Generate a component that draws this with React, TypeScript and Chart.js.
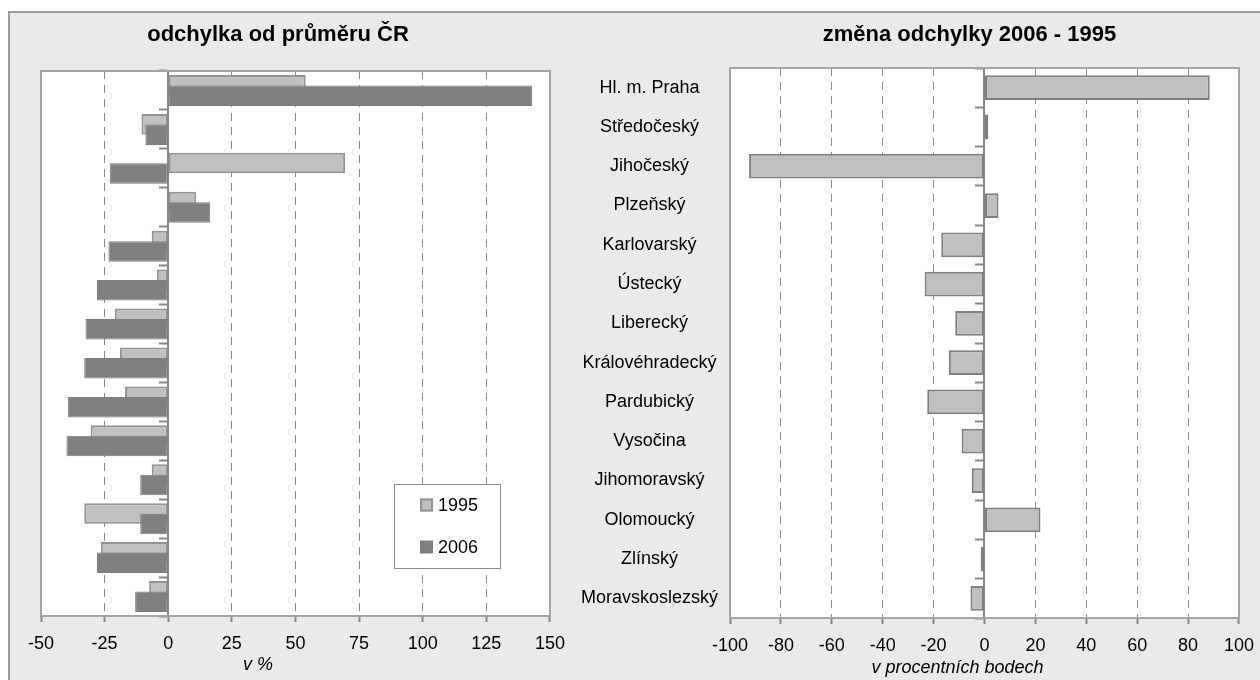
import React, { useEffect, useRef } from 'react';
import { Chart, registerables } from 'chart.js';

Chart.register(...registerables);

// ---------- data ----------
const regions = [
  'Hl. m. Praha',
  'Středočeský',
  'Jihočeský',
  'Plzeňský',
  'Karlovarský',
  'Ústecký',
  'Liberecký',
  'Královéhradecký',
  'Pardubický',
  'Vysočina',
  'Jihomoravský',
  'Olomoucký',
  'Zlínský',
  'Moravskoslezský',
];
const seriesLabels = ['1995', '2006'];
const dev1995 = [54, -10.5, 69.5, 11, -6.5, -4.5, -21, -19, -17, -30.5, -6.5, -33, -26.5, -7.5];
const dev2006 = [143, -9, -23, 16.5, -23.5, -28, -32.5, -33, -39.5, -40, -11, -11, -28, -13];
const change = [88.5, 1.5, -92.5, 5.5, -17, -23.5, -11.5, -14, -22.5, -9, -5, 22, -1.5, -5.5];

const leftRange = [-50, 150];
const leftStep = 25;
const rightRange = [-100, 100];
const rightStep = 20;

const leftTitle = 'odchylka od průměru ČR';
const rightTitle = 'změna odchylky 2006 - 1995';
const leftAxisTitle = 'v %';
const rightAxisTitle = 'v procentních bodech';

// ---------- styling ----------
const FONT = '"Liberation Sans", Arial, Helvetica, sans-serif';
const LIGHT = '#c0c0c0';
const DARK = '#808080';
const GRID = '#8c8c8c';
const FRAME = '#a4a4a4';
const AXIS = '#868686';

const framePlugin = {
  id: 'frame',
  beforeDraw(chart: any) {
    const { ctx, chartArea: a } = chart;
    ctx.save();
    ctx.fillStyle = '#ffffff';
    ctx.fillRect(a.left, a.top, a.right - a.left, a.bottom - a.top);
    ctx.restore();
  },
  beforeDatasetsDraw(chart: any) {
    const { ctx, chartArea: a } = chart;
    ctx.save();
    ctx.strokeStyle = FRAME;
    ctx.lineWidth = 2;
    ctx.strokeRect(a.left, a.top, a.right - a.left, a.bottom - a.top);
    ctx.restore();
  },
};

// draw the second series above the first one (bars overlap)
const drawOrderPlugin = {
  id: 'drawOrder',
  beforeDatasetDraw(chart: any, args: any) {
    if (chart.data.datasets.length > 1 && args.index === 1) return false;
    return true;
  },
  afterDatasetsDraw(chart: any) {
    if (chart.data.datasets.length > 1) {
      const meta = chart.getDatasetMeta(1);
      if (meta && !meta.hidden) meta.controller.draw();
    }
  },
};

const captionsPlugin = {
  id: 'captions',
  afterDraw(chart: any, _args: any, opts: any) {
    const { ctx, chartArea: a } = chart;
    const cx = (a.left + a.right) / 2;
    ctx.save();
    ctx.fillStyle = '#000';
    ctx.textAlign = 'center';
    ctx.textBaseline = 'alphabetic';
    ctx.font = `bold 22px ${FONT}`;
    ctx.fillText(opts.title, cx + opts.titleDx, opts.titleY);
    ctx.font = `italic 18px ${FONT}`;
    ctx.fillText(opts.axisTitle, cx + opts.axisTitleDx, a.bottom + opts.axisTitleDy);
    ctx.restore();
  },
};

const boxLegendPlugin = {
  id: 'boxLegend',
  afterDraw(chart: any, _args: any, opts: any) {
    if (!opts || !opts.show) return;
    const { ctx, chartArea: a } = chart;
    const w = 106;
    const h = 84;
    const x0 = Math.round(a.right - opts.right - w);
    const y0 = Math.round(a.bottom - opts.bottom - h);
    ctx.save();
    ctx.fillStyle = '#fff';
    ctx.fillRect(x0, y0, w, h);
    ctx.strokeStyle = '#8a8a8a';
    ctx.lineWidth = 1;
    ctx.strokeRect(x0 + 0.5, y0 + 0.5, w, h);
    ctx.font = `18px ${FONT}`;
    ctx.textBaseline = 'middle';
    ctx.textAlign = 'left';
    chart.data.datasets.forEach((ds: any, i: number) => {
      const cy = y0 + 21 + i * 42;
      ctx.fillStyle = ds.backgroundColor;
      ctx.fillRect(x0 + 26, cy - 6.5, 13, 13);
      ctx.strokeStyle = ds.borderColor;
      ctx.lineWidth = i === 0 ? 2 : 1;
      ctx.strokeRect(x0 + 27, cy - 5.5, 11, 11);
      ctx.fillStyle = '#000';
      ctx.fillText(ds.label, x0 + 44, cy + 1);
    });
    ctx.restore();
  },
};

const xGridColor = (ctx: any) =>
  ctx.tick && ctx.tick.value === 0 ? 'rgba(0,0,0,0)' : GRID;

function valueAxis(range: number[], step: number) {
  return {
    type: 'linear',
    position: 'bottom',
    min: range[0],
    max: range[1],
    ticks: {
      stepSize: step,
      color: '#000',
      font: { size: 18, family: FONT },
      padding: 11,
    },
    grid: {
      color: xGridColor,
      lineWidth: 1,
      drawTicks: true,
      tickLength: 6,
      tickWidth: 2,
      tickColor: AXIS,
    },
    border: { display: false, dash: [8, 6] },
    afterFit: (s: any) => {
      s.height = 40;
    },
  };
}

function zeroAxis() {
  return {
    type: 'category',
    position: { x: 0 },
    offset: true,
    ticks: { display: false },
    grid: {
      offset: true,
      drawOnChartArea: false,
      drawTicks: true,
      tickLength: 8,
      tickWidth: 2,
      tickColor: AXIS,
    },
    border: { display: true, color: AXIS, width: 2 },
  };
}

function LeftChart() {
  const ref = useRef<HTMLCanvasElement | null>(null);
  useEffect(() => {
    if (!ref.current) return;
    const chart = new Chart(ref.current, {
      type: 'bar',
      data: {
        labels: regions,
        datasets: [
          {
            label: seriesLabels[0],
            data: dev1995,
            backgroundColor: LIGHT,
            borderColor: '#939393',
            borderWidth: 2,
            borderSkipped: false,
            categoryPercentage: 0.54,
            barPercentage: 1.95,
          },
          {
            label: seriesLabels[1],
            data: dev2006,
            backgroundColor: DARK,
            borderColor: '#7c7c7c',
            borderWidth: 1,
            borderSkipped: false,
            categoryPercentage: 0.54,
            barPercentage: 1.95,
          },
        ],
      },
      options: {
        indexAxis: 'y',
        responsive: false,
        animation: false,
        devicePixelRatio: 1,
        layout: { padding: { left: 31, right: 10, top: 58, bottom: 24 } },
        scales: {
          x: valueAxis(leftRange, leftStep),
          y: zeroAxis(),
        },
        plugins: {
          legend: { display: false },
          tooltip: { enabled: false },
          captions: {
            title: leftTitle,
            titleDx: -17.5,
            titleY: 28,
            axisTitle: leftAxisTitle,
            axisTitleDx: -37.5,
            axisTitleDy: 54,
          },
          boxLegend: { show: true, right: 50, bottom: 48 },
        },
      } as any,
      plugins: [framePlugin, drawOrderPlugin, captionsPlugin, boxLegendPlugin] as any,
    } as any);
    return () => chart.destroy();
  }, []);
  return (
    <canvas
      ref={ref}
      width={566}
      height={667}
      style={{ position: 'absolute', left: 10, top: 13, width: 566, height: 667 }}
    />
  );
}

function RightChart() {
  const ref = useRef<HTMLCanvasElement | null>(null);
  useEffect(() => {
    if (!ref.current) return;
    const chart = new Chart(ref.current, {
      type: 'bar',
      data: {
        labels: regions,
        datasets: [
          {
            label: rightTitle,
            data: change,
            backgroundColor: LIGHT,
            borderColor: '#7f7f7f',
            borderWidth: 2,
            borderSkipped: false,
            categoryPercentage: 1,
            barPercentage: 0.63,
            xAxisID: 'x',
            yAxisID: 'y',
          },
        ],
      },
      options: {
        indexAxis: 'y',
        responsive: false,
        animation: false,
        devicePixelRatio: 1,
        layout: { padding: { left: 15, right: 10, top: 55, bottom: 22 } },
        scales: {
          x: valueAxis(rightRange, rightStep),
          y: {
            type: 'category',
            position: 'left',
            offset: true,
            ticks: {
              color: '#000',
              font: { size: 18, family: FONT },
              crossAlign: 'center',
              padding: 12,
            },
            grid: { display: false, drawTicks: false, offset: true },
            border: { display: false },
            afterFit: (s: any) => {
              s.width = 150;
            },
          },
          y0: zeroAxis(),
        },
        plugins: {
          legend: { display: false },
          tooltip: { enabled: false },
          captions: {
            title: rightTitle,
            titleDx: -15,
            titleY: 28,
            axisTitle: rightAxisTitle,
            axisTitleDx: -27,
            axisTitleDy: 55,
          },
          boxLegend: { show: false },
        },
      } as any,
      plugins: [framePlugin, captionsPlugin, boxLegendPlugin] as any,
    } as any);
    return () => chart.destroy();
  }, []);
  return (
    <canvas
      ref={ref}
      width={700}
      height={667}
      style={{ position: 'absolute', left: 565, top: 13, width: 700, height: 667 }}
    />
  );
}

export default function App() {
  return (
    <div
      style={{
        position: 'fixed',
        left: 0,
        top: 0,
        width: 1260,
        height: 680,
        overflow: 'hidden',
        background: '#ffffff',
      }}
    >
      <div
        style={{
          position: 'absolute',
          left: 8,
          top: 11,
          width: 1400,
          height: 800,
          background: '#eaeaea',
          borderLeft: '2px solid #9c9c9c',
          borderTop: '2px solid #9c9c9c',
        }}
      />
      <LeftChart />
      <RightChart />
    </div>
  );
}
